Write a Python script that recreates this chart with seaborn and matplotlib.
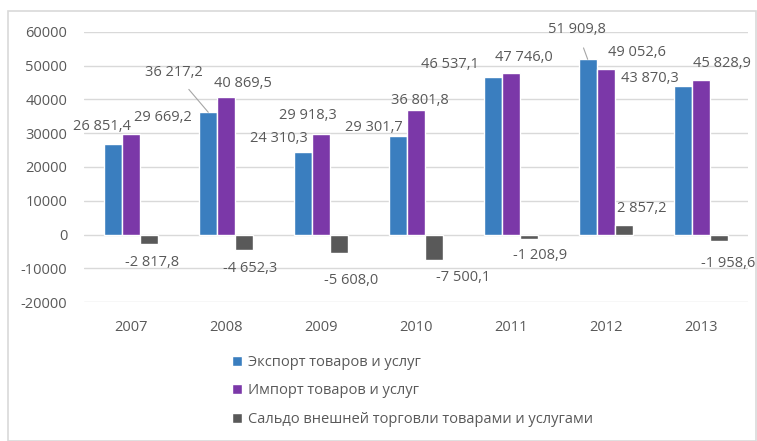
import numpy as np
import pandas as pd
import seaborn as sns
import matplotlib.pyplot as plt
from matplotlib.patches import Rectangle
from matplotlib.ticker import FuncFormatter

# data
years = ["2007", "2008", "2009", "2010", "2011", "2012", "2013"]
series = ["Экспорт товаров и услуг", "Импорт товаров и услуг",
          "Сальдо внешней торговли товарами и услугами"]
export_vals = [26851.4, 36217.2, 24310.3, 29301.7, 46537.1, 51909.8, 43870.3]
import_vals = [29669.2, 40869.5, 29918.3, 36801.8, 47746.0, 49052.6, 45828.9]
balance_vals = [-2817.8, -4652.3, -5608.0, -7500.1, -1208.9, 2857.2, -1958.6]
colors = ["#3A7EBF", "#7B38A8", "#595959"]

# label offsets in pixels (dx, dy) from bar end, per series, per year
label_offsets = [
    [(-11, 17), (-34, 40), (-24, 14), (-24, 8), (-43, 13), (-11, 30), (-33, 8)],
    [(31, 17), (17, 13), (-13, 18), (4, 10), (13, 16), (31, 16), (21, 16)],
    [(3, -18), (6, -18), (12, -27), (29, -18), (11, -17), (18, 16), (10, -22)],
]
leader = {(0, 1), (0, 5)}

df = pd.DataFrame({
    "year": years * 3,
    "series": np.repeat(series, len(years)),
    "value": export_vals + import_vals + balance_vals,
})

sns.set_style("white")
plt.rcParams["font.family"] = ["Open Sans", "DejaVu Sans"]
plt.rcParams["axes.unicode_minus"] = False
txt = "#595959"

fig = plt.figure(figsize=(7.57, 4.41), dpi=100)
ax = fig.add_axes([84 / 757, 139 / 441, 664 / 757, 270 / 441])
sns.barplot(data=df, x="year", y="value", hue="series", hue_order=series,
            palette=colors, width=0.57, saturation=1, ax=ax, zorder=3)

ax.set_ylim(-20000, 60000)
ax.set_yticks(range(-20000, 60001, 10000))
ax.yaxis.set_major_formatter(FuncFormatter(lambda v, p: f"{int(v)}"))
ax.grid(axis="y", color="#D9D9D9", linewidth=1, zorder=0)
ax.set_axisbelow(True)
for s in ax.spines.values():
    s.set_visible(False)
ax.set_xlabel("")
ax.set_ylabel("")
ax.tick_params(axis="y", length=0, pad=12, labelsize=10.5, labelcolor=txt)
ax.tick_params(axis="x", length=0, pad=13, labelsize=10.5, labelcolor=txt)


def fmt(v):
    return f"{v:,.1f}".replace(",", " ").replace(".", ",")


# data labels
for si, cont in enumerate(ax.containers):
    for yi, bar in enumerate(cont):
        v = bar.get_height()
        x = bar.get_x() + bar.get_width() / 2
        dx, dy = label_offsets[si][yi]
        arrow = None
        if (si, yi) in leader:
            arrow = dict(arrowstyle="-", color="#A6A6A6", lw=0.8,
                         shrinkA=6, shrinkB=0)
        ax.annotate(fmt(v), xy=(x, v), xytext=(dx, dy),
                    textcoords="offset pixels", ha="center", va="center",
                    fontsize=10.5, color=txt, arrowprops=arrow)

handles, labels = ax.get_legend_handles_labels()
ax.legend_.remove()
fig.legend(handles, labels, loc="upper left",
           bbox_to_anchor=(226 / 757, 1 - 349 / 441), frameon=False,
           fontsize=10.5, labelcolor=txt, handlelength=0.7, handleheight=0.7,
           handletextpad=0.4, labelspacing=0.93, borderaxespad=0)

fig.patches.append(Rectangle((8 / 757, 0), 748 / 757, 1 - 11 / 441,
                             transform=fig.transFigure, fill=False,
                             edgecolor="#D9D9D9", linewidth=1.2))

fig.savefig("out.png", dpi=100)
